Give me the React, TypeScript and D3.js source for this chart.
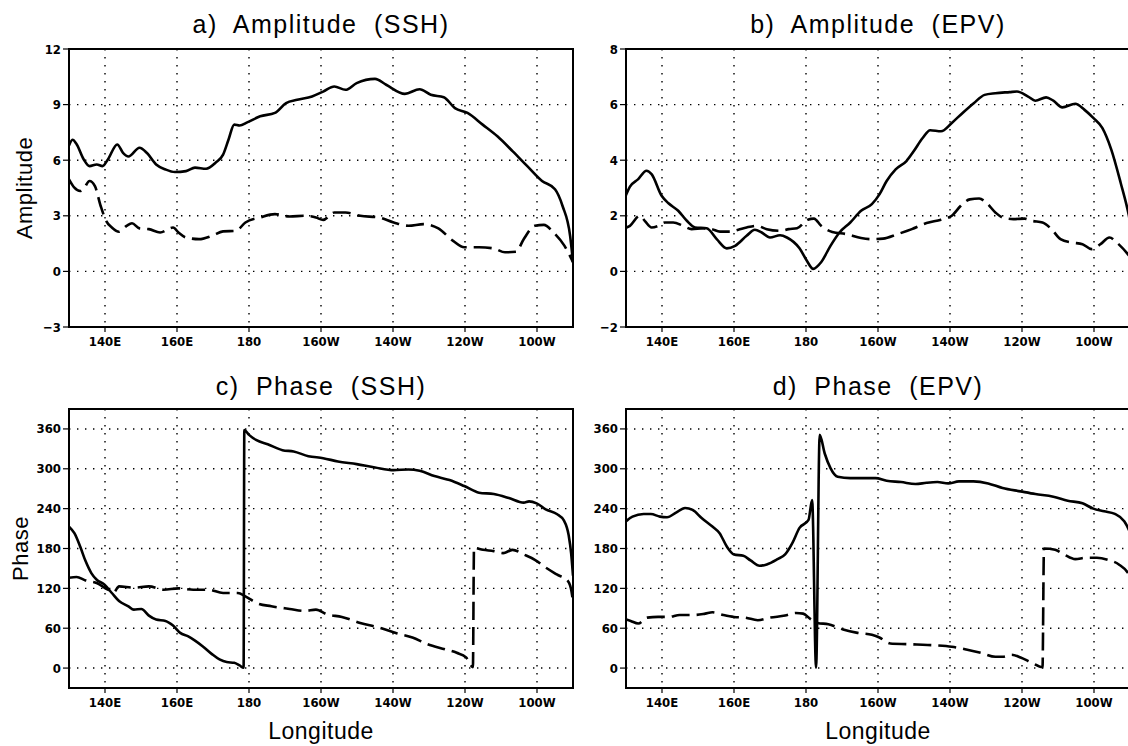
import React from "react";
import * as d3 from "d3";

type Pt = [number, number];

// ---- axis definitions ----
const lonDomain: [number, number] = [130, 270];
const lonTicks = [140, 160, 180, 200, 220, 240, 260];
const lonTickLabels = ["140E", "160E", "180", "160W", "140W", "120W", "100W"];

const ampSshDomain: [number, number] = [-3, 12];
const ampSshTicks = [-3, 0, 3, 6, 9, 12];
const ampEpvDomain: [number, number] = [-2, 8];
const ampEpvTicks = [-2, 0, 2, 4, 6, 8];
const phaseDomain: [number, number] = [-30, 390];
const phaseTicks = [0, 60, 120, 180, 240, 300, 360];

// ---- data: [longitude (deg E), value] ----
const ampSshSolid: Pt[] = [
  [130, 6.8], [131, 7.1], [132, 6.9], [134.1, 6.04], [135.7, 5.68], [137.7, 5.77], [139.3, 5.68],
  [140.8, 6.04], [143.4, 6.85], [145, 6.4], [146.5, 6.2], [149.6, 6.67], [151.6, 6.4],
  [154.2, 5.77], [156.8, 5.5], [159.4, 5.36], [162.5, 5.41], [165, 5.6], [168.1, 5.54],
  [170.7, 5.86], [172.8, 6.3], [174.3, 7.1], [175.9, 7.92], [177.4, 7.87], [179.5, 8.04],
  [183.1, 8.37], [187.2, 8.55], [190.3, 9.08], [193.4, 9.26], [197.5, 9.44], [200.6, 9.7],
  [203.7, 9.98], [206.8, 9.8], [209.9, 10.16], [215, 10.39], [218.1, 10.07], [223.3, 9.58],
  [227.4, 9.83], [230.5, 9.53], [234.1, 9.4], [237.2, 8.81], [240.7, 8.55], [244.9, 7.92],
  [249, 7.29], [253.2, 6.49], [257.3, 5.68], [261.4, 4.88], [265, 4.43], [267.1, 3.53],
  [269.2, 1.92], [270, 0.5],
];
const ampSshDashed: Pt[] = [
  [130, 4.97], [131.5, 4.52], [133.1, 4.34], [134.2, 4.5], [135.7, 4.88], [137.2, 4.6],
  [138.8, 3.53], [140.3, 2.73], [141.9, 2.37], [143.9, 2.14], [146, 2.46], [147.5, 2.6],
  [149.6, 2.32], [152.2, 2.28], [155.3, 2.1], [158.9, 2.37], [160.4, 2.1], [162.5, 1.83],
  [166.1, 1.74], [169.7, 1.92], [172.8, 2.16], [176.4, 2.19], [179, 2.64], [183.1, 2.91],
  [187.2, 3.09], [191.3, 2.96], [195.5, 3.0], [198.6, 2.91], [200.6, 2.78], [203.7, 3.18],
  [206.8, 3.18], [210.9, 3.0], [216.1, 2.91], [220.2, 2.64], [224.3, 2.46], [228.5, 2.55],
  [232.6, 2.32], [236.7, 1.65], [239.8, 1.3], [243.9, 1.3], [248, 1.24], [251.1, 1.03],
  [254.2, 1.06], [256.3, 1.74], [259.4, 2.46], [261.9, 2.51], [264.6, 2.1], [267.6, 1.39],
  [270, 0.5],
];

const ampEpvSolid: Pt[] = [
  [129.6, 2.62], [131.1, 3.05], [133.4, 3.32], [135.7, 3.62], [137.1, 3.5], [139.9, 2.72],
  [141.8, 2.45], [144.5, 2.18], [146.9, 1.82], [149.2, 1.58], [152.4, 1.55], [155.2, 1.16],
  [158, 0.83], [160.3, 0.92], [163.5, 1.28], [165.8, 1.5], [167.7, 1.4], [170, 1.22],
  [172.8, 1.3], [174.7, 1.22], [178.2, 0.83], [180.2, 0.39], [182, 0.09], [184.2, 0.33],
  [186.8, 0.92], [189.3, 1.4], [192.3, 1.76], [195.3, 2.18], [198.3, 2.42], [200.4, 2.77],
  [202.4, 3.25], [204.9, 3.67], [207.9, 3.97], [209.9, 4.32], [212.4, 4.8], [214.5, 5.08],
  [217.5, 5.04], [220.5, 5.34], [223.5, 5.7], [226.6, 6.05], [229.6, 6.35], [232.6, 6.41],
  [236.6, 6.45], [238.6, 6.47], [241.7, 6.29], [243.7, 6.14], [246.7, 6.26], [248.7, 6.14],
  [251.2, 5.9], [254.8, 6.03], [257.3, 5.82], [259.8, 5.52], [262.3, 5.16], [264.8, 4.38],
  [267.4, 3.19], [269.7, 2.0], [270, 1.8],
];
const ampEpvDashed: Pt[] = [
  [129.6, 1.55], [131.1, 1.64], [133.8, 2.0], [135.2, 1.82], [137.1, 1.58], [139, 1.64],
  [140.8, 1.76], [143.1, 1.76], [145.9, 1.64], [148.2, 1.52], [151.5, 1.55], [153.8, 1.52],
  [156.1, 1.43], [158.9, 1.43], [161.2, 1.5], [163.5, 1.58], [166.3, 1.64], [169.1, 1.52],
  [172.8, 1.46], [175.2, 1.52], [177.5, 1.55], [180.5, 1.86], [182.2, 1.9], [184.2, 1.64],
  [187.3, 1.42], [191.3, 1.34], [195.3, 1.2], [198.3, 1.16], [201.4, 1.18], [205.4, 1.34],
  [209.4, 1.52], [213.5, 1.74], [217.5, 1.86], [220.5, 2.0], [223, 2.36], [225.5, 2.59],
  [228.1, 2.62], [230.1, 2.47], [232.6, 2.12], [234.6, 1.94], [237.6, 1.88], [240.7, 1.9],
  [242.7, 1.82], [245.7, 1.76], [248.2, 1.52], [250.7, 1.16], [253.8, 1.04], [256.8, 0.98],
  [259.3, 0.8], [261.8, 0.98], [264.3, 1.22], [266.3, 1.04], [269.7, 0.57], [270, 0.52],
];

const phaseSshSolid: Pt[] = [
  [130, 213], [131.5, 203], [133.1, 183], [134.6, 161], [136.2, 143], [137.7, 133],
  [139.8, 126], [141.9, 113], [143.9, 101], [146.5, 93], [148, 88], [150.1, 89], [152.2, 79],
  [154.2, 73], [156.8, 71], [158.9, 64], [160.9, 53], [163, 48], [165.1, 41], [167.1, 33],
  [169.7, 21], [171.8, 13], [173.8, 9], [175.9, 8], [177.4, 4], [178.5, 0.5], [178.7, 358.5],
  [180, 351], [182.1, 343], [185.2, 337], [189.3, 328], [192.4, 326], [196.5, 319],
  [200.6, 316], [204.7, 311], [209.9, 307], [215, 302], [220.2, 298], [224.3, 299],
  [227.4, 297], [231.5, 289], [235.7, 283], [239.8, 274], [243.9, 264], [248, 262],
  [252.2, 256], [256.3, 249], [257.8, 251], [259.9, 248], [262.4, 239], [265.5, 232],
  [267.5, 222], [268.8, 200], [269.5, 172], [270, 139],
];
const phaseSshDashed: Pt[] = [
  [130, 136], [132.1, 137], [134.6, 132], [137.7, 128], [140.8, 118], [142.4, 114],
  [143.9, 123], [148, 121], [152.2, 123], [156.3, 118], [160.4, 120], [164.5, 118],
  [168.7, 118], [172.8, 113], [176.9, 113], [179, 108], [182.1, 98], [186.2, 93], [191.3, 89],
  [195.5, 86], [198.6, 88], [201.6, 81], [205.8, 77], [210.9, 68], [216.1, 61], [221.2, 52],
  [225.4, 46], [229.5, 36], [234.6, 28], [237.7, 23], [240.3, 16], [242.2, 1.5], [242.5, 181],
  [245, 178], [248, 176], [250.6, 173], [253.2, 178], [256.3, 171], [259.4, 163],
  [262.5, 151], [265.5, 141], [268.6, 131], [269.6, 115], [270, 100],
];

const phaseEpvSolid: Pt[] = [
  [129.6, 219], [131.8, 228], [134.9, 232], [136.9, 232], [139.4, 228], [141.4, 227],
  [143.9, 234], [146.4, 241], [148.5, 238], [151, 226], [154, 213], [156, 203], [158, 183],
  [160, 171], [162.6, 169], [164.6, 162], [167.1, 154], [169.1, 156], [172.1, 164],
  [174.2, 171], [176.2, 188], [178.2, 211], [180.7, 223], [181.7, 253], [182.8, 0.5],
  [183.8, 351], [185.2, 323], [186.8, 301], [188.8, 288], [192.3, 286], [196.3, 286],
  [199.3, 286], [202.4, 282], [206.4, 280], [210.4, 277], [213.5, 279], [216.5, 280],
  [219.5, 278], [222.5, 281], [226.5, 281], [230.6, 278], [234.6, 271], [239.6, 266],
  [243.7, 262], [248.7, 258], [252.7, 252], [256.8, 248], [259.8, 240], [262.8, 236],
  [265.8, 232], [268.4, 221], [269.7, 208], [270, 204],
];
const phaseEpvDashed: Pt[] = [
  [129.6, 74], [131.3, 71], [133.4, 67], [135.9, 76], [138.9, 77], [141.9, 77], [144.9, 80],
  [149, 80], [152, 82], [154, 84], [157, 80], [160, 77], [163.1, 76], [166.6, 72], [170.1, 76],
  [174.2, 79], [177.2, 83], [179.2, 82], [181.2, 74], [183.2, 68], [186.2, 66], [190.3, 58],
  [194.3, 53], [198.3, 50], [200.4, 46], [203.4, 37], [208.4, 36], [212.4, 35], [216.5, 34],
  [220.5, 32], [224.5, 28], [228.6, 23], [232.6, 17], [234.6, 17], [237.1, 20], [239.6, 16],
  [242.7, 8], [245.7, 1.5], [246.1, 180], [249.2, 178], [251.7, 171], [254.8, 164],
  [257.8, 166], [260.8, 166], [263.8, 163], [266.9, 156], [269.7, 141], [270, 138],
];

// ---- layout ----
const PANEL_W = 504;
const TICK_FONT = "'Liberation Sans Narrow', 'DejaVu Sans Condensed', 'Liberation Sans', sans-serif";
const TEXT_FONT = "'Liberation Sans', 'DejaVu Sans', sans-serif";

type PanelProps = {
  id: string;
  left: number;
  top: number;
  bottom: number;
  yDomain: [number, number];
  yTicks: number[];
  solid: Pt[];
  dashed: Pt[];
  title: string;
  titleY: number;
  yLabel?: string;
  yLabelX?: number;
  xLabel?: string;
};

function Panel(p: PanelProps) {
  const x = d3.scaleLinear().domain(lonDomain).range([p.left, p.left + PANEL_W]);
  const y = d3.scaleLinear().domain(p.yDomain).range([p.bottom, p.top]);
  const line = d3
    .line<Pt>()
    .x((d) => x(d[0]))
    .y((d) => y(d[1]))
    .curve(d3.curveMonotoneX);
  const cx = p.left + PANEL_W / 2;
  const cy = (p.top + p.bottom) / 2;
  const dot = { stroke: "#000", strokeWidth: 1.4, strokeDasharray: "1.4,6.6" };
  return (
    <g>
      <defs>
        <clipPath id={`clip-${p.id}`}>
          <rect x={p.left} y={p.top} width={PANEL_W} height={p.bottom - p.top} />
        </clipPath>
      </defs>
      {/* grid */}
      {lonTicks.map((t) => (
        <line key={`gx${t}`} x1={x(t)} x2={x(t)} y1={p.top} y2={p.bottom} {...dot} />
      ))}
      {p.yTicks
        .filter((t) => t > p.yDomain[0] && t < p.yDomain[1])
        .map((t) => (
          <line key={`gy${t}`} x1={p.left} x2={p.left + PANEL_W} y1={y(t)} y2={y(t)} {...dot} />
        ))}
      {/* data */}
      <g clipPath={`url(#clip-${p.id})`}>
        <path d={line(p.solid) || ""} fill="none" stroke="#000" strokeWidth={2.6} strokeLinejoin="round" />
        <path
          d={line(p.dashed) || ""}
          fill="none"
          stroke="#000"
          strokeWidth={2.6}
          strokeDasharray="18,7"
          strokeLinejoin="round"
        />
      </g>
      {/* frame */}
      <rect x={p.left} y={p.top} width={PANEL_W} height={p.bottom - p.top} fill="none" stroke="#000" strokeWidth={2} />
      {/* y ticks */}
      {p.yTicks.map((t) => (
        <g key={`yt${t}`}>
          <line x1={p.left - 6} x2={p.left} y1={y(t)} y2={y(t)} stroke="#000" strokeWidth={1.2} />
          <text
            x={p.left - 8}
            y={y(t)}
            dy="0.35em"
            textAnchor="end"
            fontFamily={TICK_FONT}
            fontWeight="bold"
            fontSize={13}
            fill="#000"
          >
            {t < 0 ? `\u2212${Math.abs(t)}` : t}
          </text>
        </g>
      ))}
      {/* x ticks */}
      {lonTicks.map((t, i) => (
        <g key={`xt${t}`}>
          <line x1={x(t)} x2={x(t)} y1={p.bottom} y2={p.bottom + 5} stroke="#000" strokeWidth={1.2} />
          <text
            x={x(t)}
            y={p.bottom + 19}
            textAnchor="middle"
            fontFamily={TICK_FONT}
            fontWeight="bold"
            fontSize={13}
            fill="#000"
          >
            {lonTickLabels[i]}
          </text>
        </g>
      ))}
      {/* title */}
      <text
        x={cx}
        y={p.titleY}
        textAnchor="middle"
        fontFamily={TEXT_FONT}
        fontSize={25}
        letterSpacing={1.5}
        wordSpacing={8}
        fill="#000"
      >
        {p.title}
      </text>
      {p.yLabel && (
        <text
          transform={`translate(${p.yLabelX},${cy}) rotate(-90)`}
          textAnchor="middle"
          fontFamily={TEXT_FONT}
          fontSize={22}
          letterSpacing={0.5}
          fill="#000"
        >
          {p.yLabel}
        </text>
      )}
      {p.xLabel && (
        <text
          x={cx}
          y={739}
          textAnchor="middle"
          fontFamily={TEXT_FONT}
          fontSize={23}
          letterSpacing={0.5}
          fill="#000"
        >
          {p.xLabel}
        </text>
      )}
    </g>
  );
}

export default function App() {
  return (
    <svg
      width={1128}
      height={746}
      viewBox="0 0 1128 746"
      style={{ position: "absolute", left: 0, top: 0, background: "#fff" }}
    >
      <rect x={0} y={0} width={1128} height={746} fill="#fff" />
      <Panel
        id="a"
        left={69}
        top={49}
        bottom={327}
        yDomain={ampSshDomain}
        yTicks={ampSshTicks}
        solid={ampSshSolid}
        dashed={ampSshDashed}
        title="a) Amplitude (SSH)"
        titleY={33}
        yLabel="Amplitude"
        yLabelX={32}
      />
      <Panel
        id="b"
        left={626}
        top={49}
        bottom={327}
        yDomain={ampEpvDomain}
        yTicks={ampEpvTicks}
        solid={ampEpvSolid}
        dashed={ampEpvDashed}
        title="b) Amplitude (EPV)"
        titleY={33}
      />
      <Panel
        id="c"
        left={69}
        top={409}
        bottom={688}
        yDomain={phaseDomain}
        yTicks={phaseTicks}
        solid={phaseSshSolid}
        dashed={phaseSshDashed}
        title="c) Phase (SSH)"
        titleY={395}
        yLabel="Phase"
        yLabelX={28}
        xLabel="Longitude"
      />
      <Panel
        id="d"
        left={626}
        top={409}
        bottom={688}
        yDomain={phaseDomain}
        yTicks={phaseTicks}
        solid={phaseEpvSolid}
        dashed={phaseEpvDashed}
        title="d) Phase (EPV)"
        titleY={395}
        xLabel="Longitude"
      />
    </svg>
  );
}
